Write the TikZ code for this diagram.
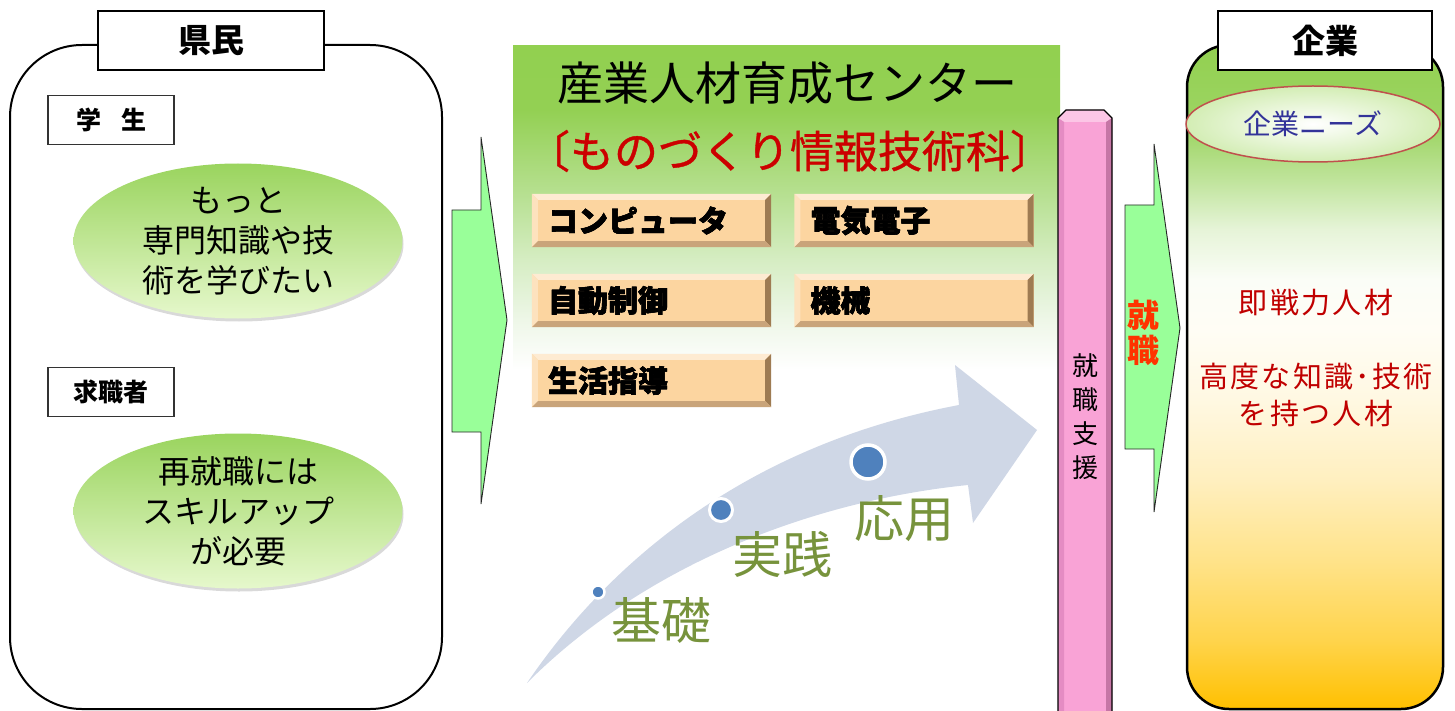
\documentclass[tikz,border=0pt]{standalone}
\usepackage{fontspec}
\setmainfont{Noto Sans CJK JP}
\newfontfamily\heavyjp[BoldFeatures={FakeBold=1.5}]{Noto Sans CJK JP}
\newfontfamily\medjp[FakeBold=0.8]{Noto Sans CJK JP}
\usetikzlibrary{calc,shadows,shapes.geometric}

\definecolor{leafgreen}{HTML}{92D050}
\definecolor{ellTop}{HTML}{9AD45E}
\definecolor{ellBot}{HTML}{E6F8CC}
\definecolor{arrowgreen}{HTML}{99FF99}
\definecolor{peach}{HTML}{FCD5A0}
\definecolor{peachhi}{HTML}{FEEBD2}
\definecolor{peachlt}{HTML}{FDE2BE}
\definecolor{peachdk}{HTML}{9E7B52}
\definecolor{peachmd}{HTML}{C9A47A}
\definecolor{pinkbar}{HTML}{F9A3D6}
\definecolor{pinkhi}{HTML}{FCC6E6}
\definecolor{pinkleft}{HTML}{E48CC3}
\definecolor{pinkright}{HTML}{C676A6}
\definecolor{steel}{HTML}{CFD7E6}
\definecolor{dotblue}{HTML}{4F81BD}
\definecolor{olivetext}{HTML}{77933C}
\definecolor{subred}{HTML}{CC0000}
\definecolor{darkred}{HTML}{C00000}
\definecolor{needsblue}{HTML}{333399}
\definecolor{needsline}{HTML}{C0504D}
\definecolor{needsout}{HTML}{D3EDB4}
\definecolor{orangered}{HTML}{FF3300}
% centre box shading colours
\definecolor{cA}{HTML}{93D053}
\definecolor{cB}{HTML}{B9E195}
\definecolor{cC}{HTML}{D6EDC3}
\definecolor{cD}{HTML}{EEF7E8}
% right box shading colours
\definecolor{rA}{HTML}{9ED565}
\definecolor{rB}{HTML}{C0E49C}
\definecolor{rC}{HTML}{E6F4D8}
\definecolor{rD}{HTML}{FBFDF7}
\definecolor{rE}{HTML}{FFFDF5}
\definecolor{rF}{HTML}{FFF8E2}
\definecolor{rG}{HTML}{FFEFBF}
\definecolor{rH}{HTML}{FFE38A}
\definecolor{rI}{HTML}{FFD44C}
\definecolor{rJ}{HTML}{FFC000}

\pgfdeclareverticalshading{centershade}{100bp}{color(0bp)=(white); color(25bp)=(white); color(33.9bp)=(white); color(40.2bp)=(cD); color(47.8bp)=(cC); color(55.5bp)=(cB); color(66.9bp)=(cA); color(75bp)=(leafgreen); color(100bp)=(leafgreen)}
\pgfdeclareverticalshading{rightshade}{100bp}{color(0bp)=(rJ); color(25bp)=(rJ); color(30.2bp)=(rI); color(36.2bp)=(rH); color(42.2bp)=(rG); color(48.3bp)=(rF); color(53.5bp)=(rE); color(57.3bp)=(rD); color(61.1bp)=(rC); color(64.8bp)=(rB); color(68.6bp)=(rA); color(75bp)=(leafgreen); color(100bp)=(leafgreen)}

\newcommand\bevelize[1]{%
  \fill[peachhi] (#1.north west) -- (#1.north east) -- ($(#1.north east)+(-6,6)$) -- ($(#1.north west)+(6,6)$) -- cycle;
  \fill[peachlt] (#1.north west) -- ($(#1.north west)+(6,6)$) -- ($(#1.south west)+(6,-6)$) -- (#1.south west) -- cycle;
  \fill[peachdk] (#1.north east) -- ($(#1.north east)+(-6,6)$) -- ($(#1.south east)+(-6,-6)$) -- (#1.south east) -- cycle;
  \fill[peachmd] (#1.south west) -- ($(#1.south west)+(6,-6)$) -- ($(#1.south east)+(-6,-6)$) -- (#1.south east) -- cycle;
}

\begin{document}
\begin{tikzpicture}[x=1pt,y=-1pt,
  lbl/.style={draw=black, fill=white, line width=2.5pt, inner sep=0pt, font=\fontsize{33}{40}\selectfont\bfseries},
  sublbl/.style={draw=black!80, fill=white, line width=1.3pt, minimum width=126pt, minimum height=49pt, inner sep=0pt, font=\fontsize{25}{30}\selectfont\bfseries},
  wish/.style={ellipse, minimum width=329pt, minimum height=155pt, inner sep=0pt, top color=ellTop, bottom color=ellBot, align=center, font=\fontsize{32}{40}\selectfont, drop shadow={shadow xshift=1pt, shadow yshift=-3pt, opacity=0.3}},
  btn/.style={fill=peach, minimum height=53pt, inner xsep=16pt, inner ysep=0pt, text width=207pt, align=left, font=\heavyjp\fontsize{30}{34}\selectfont\bfseries},
  blockarrow/.style={fill=arrowgreen, draw=black!85, line width=0.9pt, line join=miter},
  dotmark/.style={circle, fill=dotblue, draw=white, inner sep=0pt},
  stage/.style={text=olivetext, font=\fontsize{50}{60}\selectfont, inner sep=0pt},
  redtext/.style={text=darkred, align=center, inner sep=0pt, font=\fontsize{29}{37}\selectfont\addfontfeature{LetterSpace=8}},
]
\useasboundingbox (0,0) rectangle (1455,711);

% ---------- centre: training centre ----------
\node[shade, shading=centershade, minimum width=547pt, minimum height=394pt, inner sep=0pt] (centre) at (786.5,243) {};
\node[font=\fontsize{46}{50}\selectfont, inner sep=0pt] (title) at (787,83) {産業人材育成センター};
\node[font=\medjp\fontsize{44}{48}\selectfont, text=subred, inner sep=0pt] (course) at (790,151) {〔ものづくり情報技術科〕};

% ---------- left: prefectural residents ----------
\node[draw, line width=2pt, rounded corners=72pt, minimum width=432pt, minimum height=664pt, inner sep=0pt] (kenmin) at (226,377) {};
\node[lbl, minimum width=226pt, minimum height=59pt] (kenminlbl) at (211,40.5) {県民};
\node[sublbl] (gakusei) at (111,120) {学\hspace{0.8em}生};
\node[wish] (wish1) at (238,241) {もっと\\専門知識や技\\術を学びたい};
\node[sublbl] (kyushoku) at (111,392) {求職者};
\node[wish] (wish2) at (238,511) {再就職には\\スキルアップ\\が必要};

% ---------- green arrow into the centre ----------
\draw[blockarrow] (452,210) -- (481,210) -- (481,137) -- (507,320) -- (481,504) -- (481,432) -- (452,432) -- cycle;

% ---------- course buttons ----------
\node[btn] (b1) at (651.5,220.5) {コンピュータ};
\node[btn] (b2) at (914,220.5) {電気電子};
\node[btn] (b3) at (651.5,300.5) {自動制御};
\node[btn] (b4) at (914,300.5) {機械};
\node[btn] (b5) at (651.5,380.5) {生活指導};
\bevelize{b1}\bevelize{b2}\bevelize{b3}\bevelize{b4}\bevelize{b5}
\node[btn, fill=none] at (b1) {コンピュータ};
\node[btn, fill=none] at (b2) {電気電子};
\node[btn, fill=none] at (b3) {自動制御};
\node[btn, fill=none] at (b4) {機械};
\node[btn, fill=none] at (b5) {生活指導};

% ---------- curved progress arrow ----------
\fill[steel] (527,683) .. controls (590,590) and (720,450) .. (959,405) -- (955,365) -- (1037,430) -- (973,523) -- (968,485) .. controls (820,500) and (650,560) .. (527,683) -- cycle;
\node[dotmark, line width=2.5pt, minimum size=13pt] (d1) at (598,592) {};
\node[dotmark, line width=3pt, minimum size=23pt] (d2) at (721,510) {};
\node[dotmark, line width=3.5pt, minimum size=34pt] (d3) at (868,462) {};
\node[stage] (kiso) at (661,620) {基礎};
\node[stage] (jissen) at (782,554) {実践};
\node[stage] (oyo) at (904,519) {応用};

% ---------- pink support bar ----------
\fill[pinkbar] (1058,716) -- (1058,118) -- (1066,110) -- (1104,110) -- (1112,118) -- (1112,716) -- cycle;
\fill[pinkhi] (1058,118) -- (1066,110) -- (1104,110) -- (1112,118) -- (1106,122) -- (1064,122) -- cycle;
\fill[pinkleft] (1058,118) -- (1064,122) -- (1064,716) -- (1058,716) -- cycle;
\fill[pinkright] (1112,118) -- (1106,122) -- (1106,716) -- (1112,716) -- cycle;
\draw[line width=1.3pt, line join=round] (1058,716) -- (1058,118) -- (1066,110) -- (1104,110) -- (1112,118) -- (1112,716);
\node[align=center, inner sep=0pt, font=\fontsize{26}{34}\selectfont] (shien) at (1085,417) {就\\職\\支\\援};

% ---------- green arrow into companies ----------
\draw[blockarrow] (1125,205) -- (1154,205) -- (1154,144) -- (1180,328) -- (1154,512) -- (1154,449) -- (1125,449) -- cycle;
\node[align=center, inner sep=0pt, text=orangered, font=\fontsize{32}{35}\selectfont\bfseries] (shushoku) at (1143,333) {就\\職};

% ---------- right: companies ----------
\node[shade, shading=rightshade, draw, line width=2.5pt, rounded corners=42pt, minimum width=256pt, minimum height=664pt, inner sep=0pt] (kigyo) at (1315,377) {};
\node[lbl, minimum width=214pt, minimum height=59pt] (kigyolbl) at (1325,40.5) {企業};
\node[ellipse, draw=needsline, line width=1.5pt, inner color=white, outer color=needsout, minimum width=254pt, minimum height=76pt, inner sep=0pt, text=needsblue, font=\fontsize{28}{32}\selectfont] (needs) at (1313,124) {企業ニーズ};
\node[redtext] (sokusen) at (1316,303) {即戦力人材};
\node[redtext] (kodo) at (1316,395) {高度な知識･技術\\を持つ人材};
\end{tikzpicture}
\end{document}
